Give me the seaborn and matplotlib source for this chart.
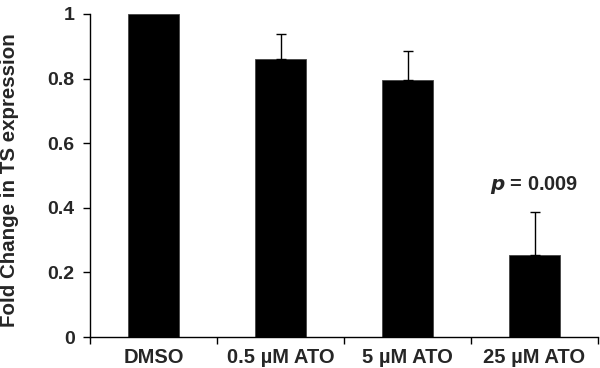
import matplotlib
matplotlib.use("Agg")
import matplotlib.pyplot as plt
import seaborn as sns
import pandas as pd

# values
groups = ["DMSO", "0.5 µM ATO", "5 µM ATO", "25 µM ATO"]
fold_change = [1.0, 0.86, 0.795, 0.254]
upper_err = [0.0, 0.077, 0.09, 0.134]
y_ticks = [0, 0.2, 0.4, 0.6, 0.8, 1]
y_tick_labels = ["0", "0.2", "0.4", "0.6", "0.8", "1"]

df = pd.DataFrame({"group": groups, "fold": fold_change, "err": upper_err})

sns.set_style("white")
plt.rcParams["font.family"] = ["Liberation Sans", "DejaVu Sans"]
plt.rcParams["font.weight"] = "bold"

fig = plt.figure(figsize=(6, 3.68), dpi=100)
ax = fig.add_axes([0.15, 0.0842, 0.8467, 0.878])

sns.barplot(data=df, x="group", y="fold", color="black", width=0.4,
            saturation=1, errorbar=None, ax=ax)
for patch in ax.patches:
    patch.set_edgecolor("#444444")
    patch.set_linewidth(0.6)

# one-sided error bars (only where there is an error)
with_err = df[df["err"] > 0]
ax.errorbar(with_err.index, with_err["fold"],
            yerr=[[0] * len(with_err), with_err["err"]],
            fmt="none", ecolor="black", elinewidth=1.0, capsize=3.5, capthick=1.0)

ax.set_xlim(-0.5, len(groups) - 0.5)
ax.set_ylim(0, 1)
ax.set_yticks(y_ticks)
ax.set_yticklabels(y_tick_labels, fontsize=14, fontweight="bold")

# category labels without marks, tick marks between categories
ax.set_xticks(range(len(groups)))
ax.set_xticklabels(groups, fontsize=14.5, fontweight="bold")
ax.tick_params(axis="x", which="major", length=0, pad=8)
ax.set_xticks([i - 0.5 for i in range(len(groups) + 1)], minor=True)
ax.tick_params(axis="x", which="minor", direction="out", length=5, width=1, color="black", bottom=True)
ax.tick_params(axis="y", direction="out", length=5, width=1, color="black", left=True, pad=6)

ax.set_xlabel("")
ax.set_ylabel("Fold Change in TS expression", fontsize=14.8, fontweight="bold", va="center")
ax.yaxis.set_label_coords(-0.158, 0.485)

for side in ["top", "right"]:
    ax.spines[side].set_visible(False)
for side in ["left", "bottom"]:
    ax.spines[side].set_color("black")
    ax.spines[side].set_linewidth(1.0)

ax.text(3, 0.47, r"$\bf{\it{p}}$ = 0.009", ha="center", va="center",
        fontsize=14.3, fontweight="bold")

fig.savefig("out.png", dpi=100)
